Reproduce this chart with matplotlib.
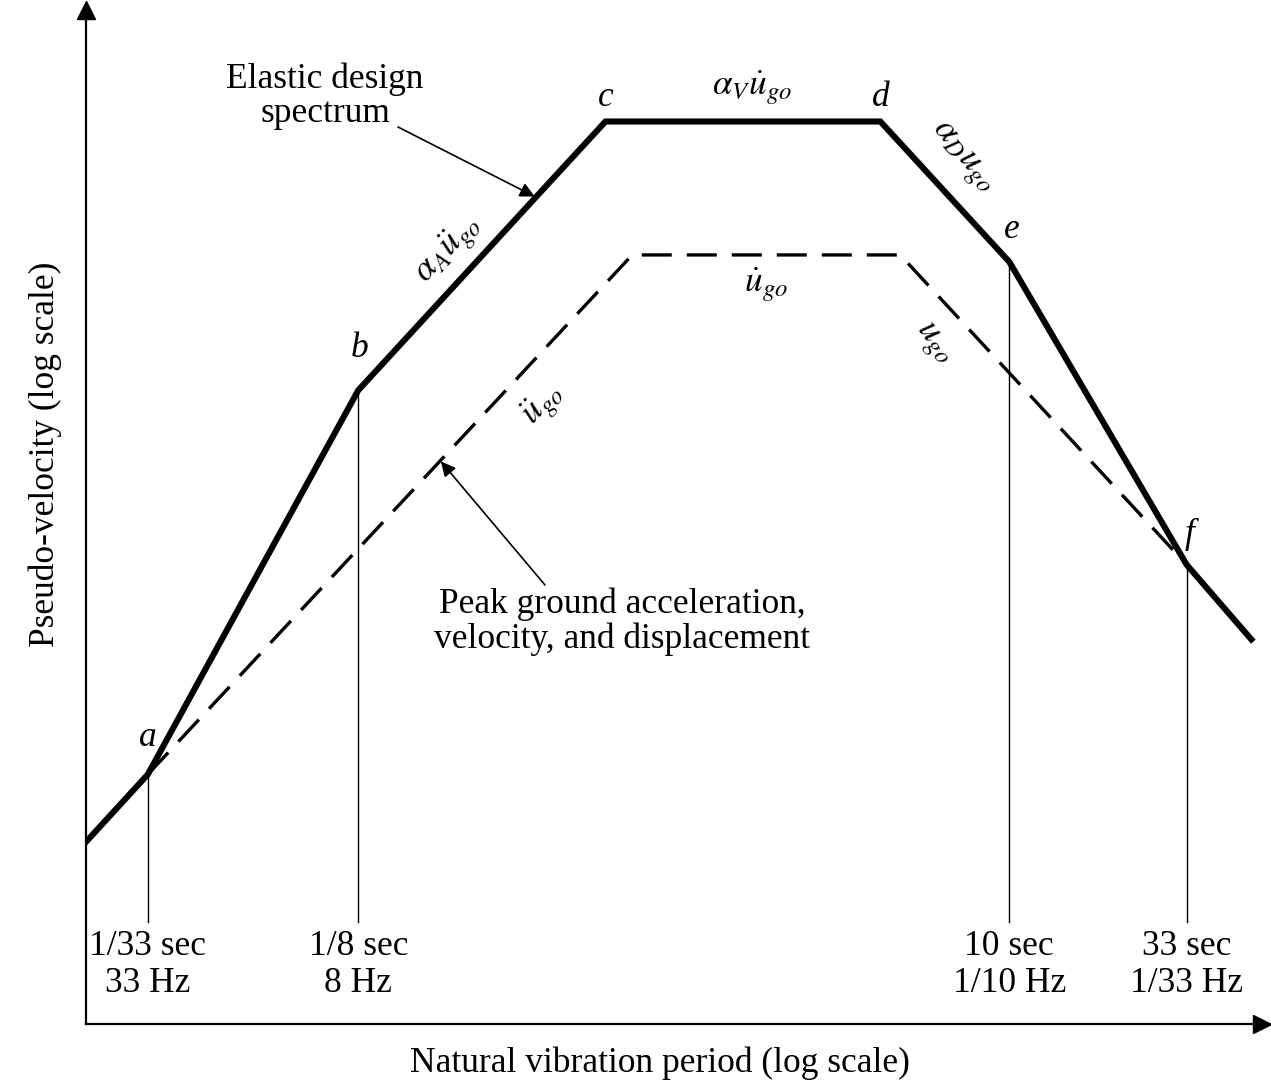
import numpy as np
import matplotlib
matplotlib.use("Agg")
import matplotlib.pyplot as plt

plt.rcParams['font.family'] = ['Liberation Serif', 'DejaVu Serif']
plt.rcParams['mathtext.fontset'] = 'stix'

# elastic design spectrum vertices: period (s), pseudo-velocity
spec_T = [0.02, 1/33, 1/8, 0.66, 4.2, 10, 33, 51]
spec_V = [1.25, 1.9, 20.7, 110, 110, 46, 7.0, 4.4]

# peak ground acceleration / velocity / displacement lines
ground_T = [1/33, 0.79, 4.8, 33]
ground_V = [1.9, 48, 48, 7.0]

# marked periods and their labels
mark_T = [1/33, 1/8, 10, 33]
mark_top = [1.9, 20.7, 46, 7.0]
mark_labels = ['1/33 sec\n33 Hz', '1/8 sec\n8 Hz', '10 sec\n1/10 Hz', '33 sec\n1/33 Hz']
mark_bottom = 0.76

point_names = ['a', 'b', 'c', 'd', 'e', 'f']
point_T = [1/33, 1/8, 0.66, 4.2, 10, 33]
point_V = [1.9, 20.7, 110, 110, 46, 7.0]

FS = 25.5
W, H = 1271, 1091
fig = plt.figure(figsize=(W / 100, H / 100), dpi=100)
ax = fig.add_axes([86 / W, (H - 1024) / H, (1262 - 86) / W, (1024 - 10) / H])
ax.set_xscale('log')
ax.set_yscale('log')
ax.set_xlim(0.0200, 54.8)
ax.set_ylim(0.403, 220)

def px(x, y):
    # figure fraction from pixel position (origin top-left)
    return (x / W, 1 - y / H)

ax.plot(spec_T, spec_V, color='k', lw=4.4, solid_joinstyle='miter', zorder=3)
ax.plot(ground_T, ground_V, color='k', lw=2.4, dashes=(9, 4.5), zorder=2)

for t, top in zip(mark_T, mark_top):
    ax.plot([t, t], [mark_bottom, top], color='k', lw=1.0, zorder=1)

for t, lab in zip(mark_T, mark_labels):
    ax.annotate(lab, xy=(t, mark_bottom), xytext=(0, -6), textcoords='offset points',
                ha='center', va='top', fontsize=FS, linespacing=1.15)

offsets = {'a': (0, 27), 'b': (1, 30), 'c': (0, 17), 'd': (0, 17), 'e': (2, 23), 'f': (2, 22)}
for name, t, v in zip(point_names, point_T, point_V):
    ax.annotate(name, xy=(t, v), xytext=offsets[name], textcoords='offset points',
                ha='center', va='center', fontsize=FS, style='italic')

# segment labels
fig.text(*px(448, 250), r'$\alpha_A\ddot{u}_{go}$', fontsize=FS, rotation=47,
         ha='center', va='center')
fig.text(*px(752, 88), r'$\alpha_V\dot{u}_{go}$', fontsize=FS, ha='center', va='center')
fig.text(*px(962, 157), r'$\alpha_D u_{go}$', fontsize=FS, rotation=-50,
         ha='center', va='center')
fig.text(*px(766, 285), r'$\dot{u}_{go}$', fontsize=FS, ha='center', va='center')
fig.text(*px(933, 343), r'$u_{go}$', fontsize=FS, rotation=-52, ha='center', va='center')
fig.text(*px(543, 405), r'$\ddot{u}_{go}$', fontsize=FS, rotation=47,
         ha='center', va='center')

# callouts
fig.text(*px(325, 96), 'Elastic design\nspectrum', ha='center', va='center',
         fontsize=FS, linespacing=1.05)
ax.annotate('', xy=(0.41, 69), xycoords='data', xytext=px(398, 127),
            textcoords='figure fraction',
            arrowprops=dict(arrowstyle='-|>', color='k', lw=1.2, mutation_scale=22,
                            shrinkA=0, shrinkB=0))
fig.text(*px(622, 622), 'Peak ground acceleration,\nvelocity, and displacement',
         ha='center', va='center', fontsize=FS, linespacing=1.05)
ax.annotate('', xy=(0.218, 13.3), xycoords='data', xytext=px(545, 585),
            textcoords='figure fraction',
            arrowprops=dict(arrowstyle='-|>', color='k', lw=1.2, mutation_scale=22,
                            shrinkA=0, shrinkB=0))

ax.set_xlabel('Natural vibration period (log scale)', fontsize=FS)
ax.set_ylabel('Pseudo-velocity (log scale)', fontsize=FS)
ax.xaxis.set_label_coords((660 - 86) / 1176, -(1063 - 1024) / 1014)
ax.yaxis.set_label_coords(-(86 - 45) / 1176, (1024 - 454) / 1014)
ax.xaxis.label.set_va('center')
ax.yaxis.label.set_va('center')

for s in ['top', 'right']:
    ax.spines[s].set_visible(False)
for s in ['left', 'bottom']:
    ax.spines[s].set_linewidth(1.6)
ax.set_xticks([])
ax.set_yticks([])
ax.xaxis.set_minor_locator(matplotlib.ticker.NullLocator())
ax.yaxis.set_minor_locator(matplotlib.ticker.NullLocator())

# axis arrowheads
ax.plot(1, 0, '>k', ms=13, transform=ax.transAxes, clip_on=False)
ax.plot(0, 1, '^k', ms=13, transform=ax.transAxes, clip_on=False)

fig.savefig('out.png', dpi=100)
